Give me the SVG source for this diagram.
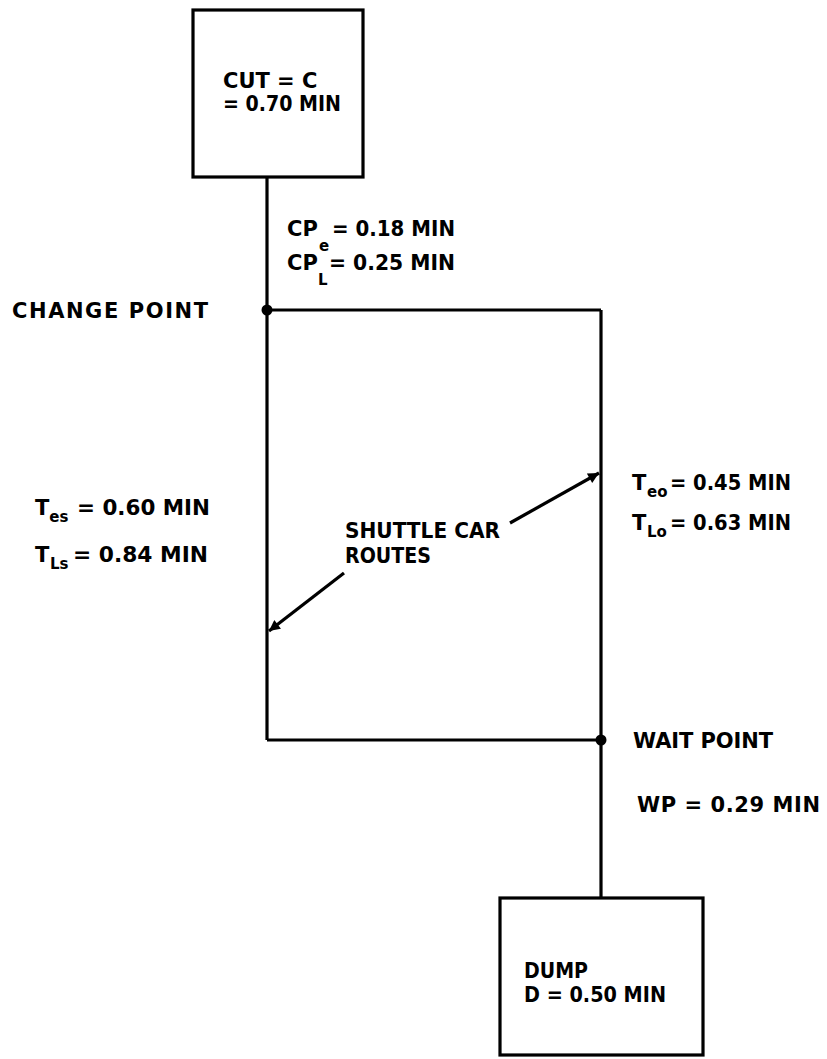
<svg xmlns="http://www.w3.org/2000/svg" width="827" height="1059" viewBox="0 0 827 1059">
<style>
.t{font-family:"DejaVu Sans","Liberation Sans",sans-serif;font-weight:bold;font-size:21px;fill:#000}
.s{font-size:15px}
.ln{stroke:#000;stroke-width:3.2;fill:none}
.box{stroke:#000;stroke-width:3.2;fill:#fff}
</style>
<defs>
<marker id="ah" viewBox="0 0 10 10" refX="10" refY="5" markerWidth="6" markerHeight="3.4" markerUnits="strokeWidth" orient="auto">
<path d="M0,0 L10,5 L0,10 z" fill="#000"/>
</marker>
</defs>
<rect width="827" height="1059" fill="#fff"/>
<g id="connectors">
<line class="ln" x1="267" y1="177" x2="267" y2="740"/>
<line class="ln" x1="267" y1="310" x2="601" y2="310"/>
<line class="ln" x1="601" y1="310" x2="601" y2="898"/>
<line class="ln" x1="267" y1="740" x2="601" y2="740"/>
<line class="ln" x1="510" y1="523" x2="599" y2="473" marker-end="url(#ah)"/>
<line class="ln" x1="344" y1="573" x2="269" y2="631" marker-end="url(#ah)"/>
</g>
<g id="cut">
<rect class="box" x="193" y="10" width="170" height="167"/>
<text class="t" x="223" y="88">CUT = C</text>
<text class="t" x="223" y="111" textLength="118" lengthAdjust="spacingAndGlyphs">= 0.70 MIN</text>
</g>
<g id="cp-times">
<text class="t" x="287" y="236">CP<tspan class="s" x="319" dy="15">e</tspan><tspan x="332" dy="-15" textLength="123" lengthAdjust="spacingAndGlyphs">= 0.18 MIN</tspan><tspan x="287" dy="34">CP</tspan><tspan class="s" x="318" dy="15">L</tspan><tspan x="329" dy="-15" textLength="126" lengthAdjust="spacingAndGlyphs">= 0.25 MIN</tspan></text>
</g>
<g id="change-point">
<circle cx="267" cy="310" r="5.5" fill="#000"/>
<text class="t" x="12" y="318" textLength="196" lengthAdjust="spacing">CHANGE POINT</text>
</g>
<g id="left-times">
<text class="t" x="35" y="515">T<tspan class="s" dy="7">es</tspan><tspan x="77" dy="-7" textLength="133" lengthAdjust="spacingAndGlyphs">= 0.60 MIN</tspan></text>
<text class="t" x="35" y="562">T<tspan class="s" x="50" dy="7">Ls</tspan><tspan x="73" dy="-7" textLength="135" lengthAdjust="spacingAndGlyphs">= 0.84 MIN</tspan></text>
</g>
<g id="routes-label">
<text class="t" x="345" y="538" textLength="155" lengthAdjust="spacingAndGlyphs">SHUTTLE CAR</text>
<text class="t" x="345" y="563" textLength="86" lengthAdjust="spacingAndGlyphs">ROUTES</text>
</g>
<g id="right-times">
<text class="t" x="632" y="490">T<tspan class="s" x="647" dy="7">eo</tspan><tspan x="670" dy="-7" textLength="121" lengthAdjust="spacingAndGlyphs">= 0.45 MIN</tspan></text>
<text class="t" x="632" y="530">T<tspan class="s" x="647" dy="7">Lo</tspan><tspan x="670" dy="-7" textLength="121" lengthAdjust="spacingAndGlyphs">= 0.63 MIN</tspan></text>
</g>
<g id="wait-point">
<circle cx="601" cy="740" r="5.5" fill="#000"/>
<text class="t" x="633" y="748" textLength="140" lengthAdjust="spacing">WAIT POINT</text>
<text class="t" x="637" y="812" textLength="183" lengthAdjust="spacing">WP = 0.29 MIN</text>
</g>
<g id="dump">
<rect class="box" x="500" y="898" width="203" height="157"/>
<text class="t" x="524" y="978" textLength="64" lengthAdjust="spacingAndGlyphs">DUMP</text>
<text class="t" x="524" y="1002" textLength="142" lengthAdjust="spacingAndGlyphs">D = 0.50 MIN</text>
</g>
</svg>
